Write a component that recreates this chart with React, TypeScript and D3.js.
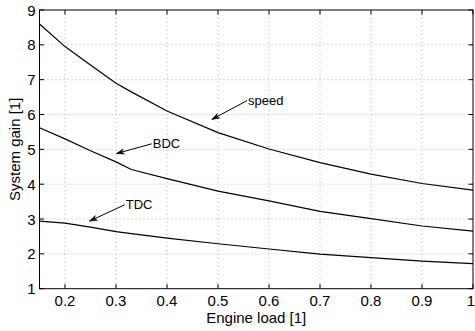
import React from "react";
import * as d3 from "d3";

// Engine load operating points [1]
const loads = [0.15, 0.2, 0.25, 0.3, 0.33, 0.4, 0.5, 0.6, 0.7, 0.8, 0.9, 1.0];
// System gain for each disturbance channel
const speedGain = [8.6, 7.95, 7.42, 6.9, 6.65, 6.1, 5.48, 5.01, 4.62, 4.29, 4.02, 3.83];
const bdcGain = [5.62, 5.3, 4.96, 4.64, 4.42, 4.16, 3.8, 3.52, 3.22, 3.01, 2.8, 2.65];
const tdcGain = [2.94, 2.88, 2.77, 2.64, 2.58, 2.45, 2.29, 2.14, 1.99, 1.89, 1.79, 1.72];

const xTicks = [0.2, 0.3, 0.4, 0.5, 0.6, 0.7, 0.8, 0.9, 1];
const xTickLabels = ["0.2", "0.3", "0.4", "0.5", "0.6", "0.7", "0.8", "0.9", "1"];
const yTicks = [1, 2, 3, 4, 5, 6, 7, 8, 9];

// Arrow annotations: label, label anchor (load, gain), arrow tip (load, gain)
const annLabels = ["speed", "BDC", "TDC"];
const annTextLoad = [0.559, 0.372, 0.319];
const annTextGain = [6.27, 5.03, 3.28];
const annTipLoad = [0.488, 0.301, 0.248];
const annTipGain = [5.86, 4.88, 2.94];

const W = 475;
const H = 331;
const M = { left: 39.5, right: 473, top: 10, bottom: 288.7 };
const FONT = "'Liberation Sans', Arial, Helvetica, sans-serif";

export default function App() {
  const x = d3.scaleLinear().domain([0.15, 1]).range([M.left, M.right]);
  const y = d3.scaleLinear().domain([1, 9]).range([M.bottom, M.top]);

  const line = d3
    .line<number>()
    .x((_, i) => x(loads[i]))
    .y((d) => y(d));

  const series = [speedGain, bdcGain, tdcGain];
  const tickLen = 4.5;

  return (
    <svg
      width={W}
      height={H}
      style={{ position: "absolute", left: 0, top: 0, background: "#fff" }}
      fontFamily={FONT}
    >
      <rect x={0} y={0} width={W} height={H} fill="#fff" />
      {/* grid */}
      <g stroke="#a0a0a0" strokeWidth={0.8} strokeDasharray="1 3">
        {xTicks.slice(0, -1).map((t) => (
          <line key={"gx" + t} x1={x(t)} x2={x(t)} y1={M.top} y2={M.bottom} />
        ))}
        {yTicks.slice(1, -1).map((t) => (
          <line key={"gy" + t} x1={M.left} x2={M.right} y1={y(t)} y2={y(t)} />
        ))}
      </g>

      {/* data curves */}
      <g fill="none" stroke="#000" strokeWidth={1.2}>
        {series.map((s, i) => (
          <path key={i} d={line(s) ?? ""} />
        ))}
      </g>

      {/* frame and inward ticks */}
      <g stroke="#000" strokeWidth={1}>
        <rect
          x={M.left}
          y={M.top}
          width={M.right - M.left}
          height={M.bottom - M.top}
          fill="none"
        />
        {xTicks.map((t) => (
          <g key={"tx" + t}>
            <line x1={x(t)} x2={x(t)} y1={M.bottom} y2={M.bottom - tickLen} />
            <line x1={x(t)} x2={x(t)} y1={M.top} y2={M.top + tickLen} />
          </g>
        ))}
        {yTicks.map((t) => (
          <g key={"ty" + t}>
            <line x1={M.left} x2={M.left + tickLen} y1={y(t)} y2={y(t)} />
            <line x1={M.right} x2={M.right - tickLen} y1={y(t)} y2={y(t)} />
          </g>
        ))}
      </g>

      {/* tick labels */}
      <g fontSize={15} fill="#000">
        {xTicks.map((t, i) => {
          const last = i === xTicks.length - 1;
          return (
            <text
              key={"lx" + t}
              x={last ? W : x(t)}
              y={306}
              textAnchor={last ? "end" : "middle"}
            >
              {xTickLabels[i]}
            </text>
          );
        })}
        {yTicks.map((t) => (
          <text
            key={"ly" + t}
            x={35.5}
            y={y(t)}
            textAnchor="end"
            dominantBaseline="central"
          >
            {t}
          </text>
        ))}
      </g>

      {/* axis titles */}
      <text
        x={(M.left + M.right) / 2}
        y={322.5}
        textAnchor="middle"
        fontSize={15}
      >
        Engine load [1]
      </text>
      <text
        transform={`translate(20,${(M.top + M.bottom) / 2}) rotate(-90)`}
        textAnchor="middle"
        fontSize={15}
      >
        System gain [1]
      </text>

      {/* annotations */}
      {annLabels.map((lab, i) => {
        const tx = x(annTextLoad[i]);
        const ty = y(annTextGain[i]);
        const sx = tx - 1;
        const sy = ty - 4.5;
        const ex = x(annTipLoad[i]);
        const ey = y(annTipGain[i]);
        const ang = Math.atan2(ey - sy, ex - sx);
        const hl = 8;
        const ha = 0.33;
        const h1x = ex - hl * Math.cos(ang - ha);
        const h1y = ey - hl * Math.sin(ang - ha);
        const h2x = ex - hl * Math.cos(ang + ha);
        const h2y = ey - hl * Math.sin(ang + ha);
        return (
          <g key={lab}>
            <line x1={sx} y1={sy} x2={ex} y2={ey} stroke="#000" strokeWidth={1} />
            <polygon
              points={`${ex},${ey} ${h1x},${h1y} ${(ex * 0.3 + ((h1x + h2x) / 2) * 0.7)},${(ey * 0.3 + ((h1y + h2y) / 2) * 0.7)} ${h2x},${h2y}`}
              fill="#000"
              stroke="#000"
              strokeWidth={0.6}
              strokeLinejoin="miter"
            />
            <text x={tx} y={ty} fontSize={13}>
              {lab}
            </text>
          </g>
        );
      })}
    </svg>
  );
}
